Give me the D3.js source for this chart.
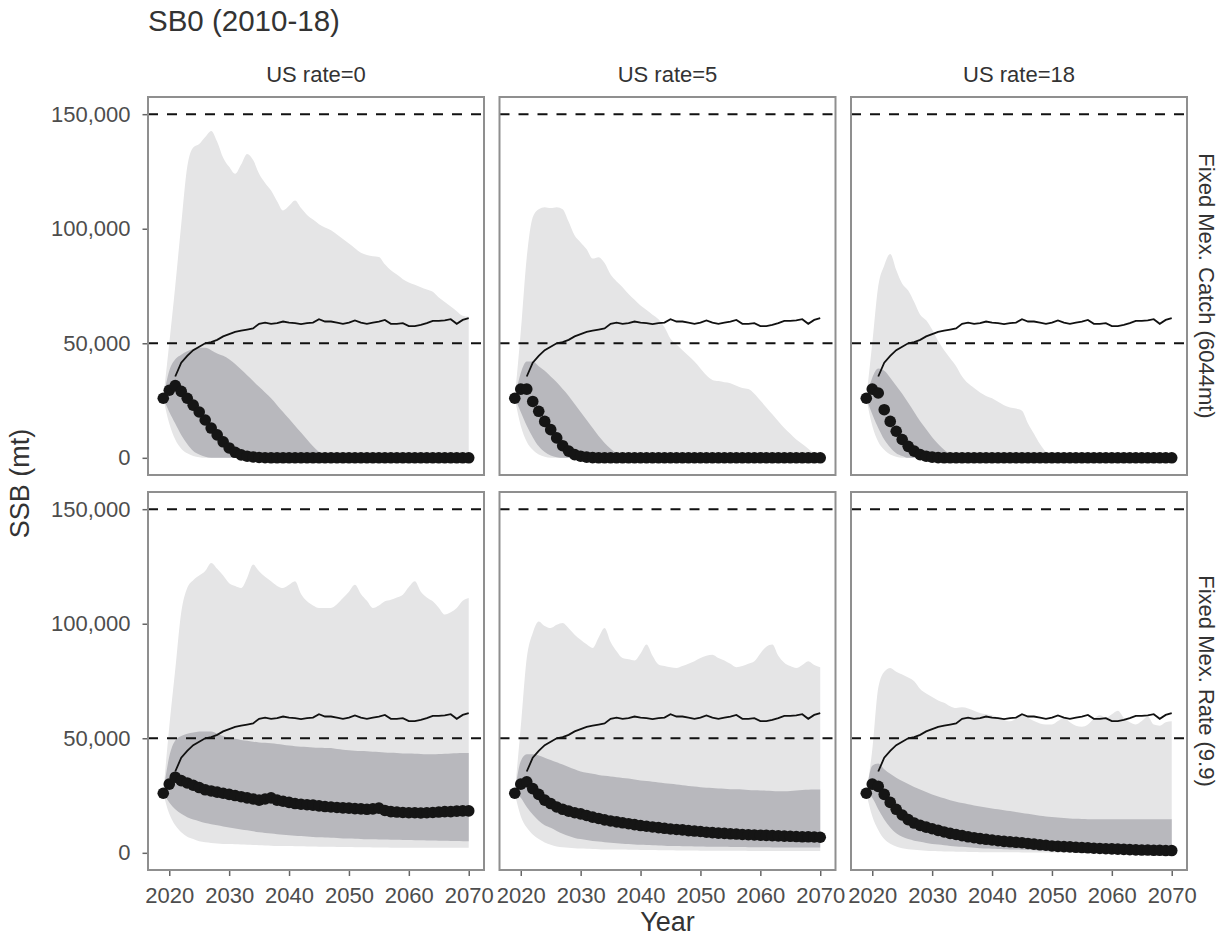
<!DOCTYPE html>
<meta charset="utf-8">
<style>

body {
  margin: 0;
  background: #fff;
  font-family: "Liberation Sans", Arial, sans-serif;
}

.axis path {
  display: none;
}

.axis line {
  stroke: #666;
  stroke-width: 1.5;
}

.axis text {
  font-size: 22px;
  fill: #4d4d4d;
}

.strip {
  font-size: 22px;
  fill: #333;
}

</style>
<body>
<script src="https://d3js.org/d3.v7.min.js"></script>
<script>

// ---- data ----
var years = [2019, 2020, 2021, 2022, 2023, 2024, 2025, 2026, 2027, 2028,
  2029, 2030, 2031, 2032, 2033, 2034, 2035, 2036, 2037, 2038,
  2039, 2040, 2041, 2042, 2043, 2044, 2045, 2046, 2047, 2048,
  2049, 2050, 2051, 2052, 2053, 2054, 2055, 2056, 2057, 2058,
  2059, 2060, 2061, 2062, 2063, 2064, 2065, 2066, 2067, 2068,
  2069, 2070];

var xTicks = [2020, 2030, 2040, 2050, 2060, 2070];
var yTicks = [0, 50000, 100000, 150000];
var refLevels = [50000, 150000];
var colLabels = ["US rate=0", "US rate=5", "US rate=18"];
var rowLabels = ["Fixed Mex. Catch (6044mt)", "Fixed Mex. Rate (9.9)"];

// unfished trajectory (same in every panel)
var noFishing = [null, null, 35500, 41500, 44500, 47000, 48500, 50000, 50500, 51500,
  53000, 54000, 55000, 55500, 56000, 56500, 58500, 59000, 58500, 58800,
  59500, 59000, 58800, 58400, 58800, 59000, 60500, 59500, 59500, 59000,
  58500, 59000, 60000, 59000, 58500, 59000, 59500, 60200, 58500, 58500,
  58800, 57500, 57500, 58000, 58800, 59800, 59800, 60000, 60500, 58500,
  60200, 61000];

// Fixed Mex. Catch, US rate=0
var catchUs0Med = [26000, 29500, 31500, 29000, 26000, 23000, 20000, 16500, 13000, 10000,
  7000, 4300, 2400, 1300, 700, 350, 150, 50, 0, 0,
  0, 0, 0, 0, 0, 0, 0, 0, 0, 0,
  0, 0, 0, 0, 0, 0, 0, 0, 0, 0,
  0, 0, 0, 0, 0, 0, 0, 0, 0, 0,
  0, 0];
var catchUs0Hi50 = [26000, 38000, 43000, 45000, 46500, 47500, 48000, 48000, 47000, 45500,
  44500, 43000, 41000, 38500, 36000, 33500, 31000, 28500, 26000, 23000,
  20000, 17000, 14000, 11000, 8000, 5000, 2500, 800, 0, 0,
  0, 0, 0, 0, 0, 0, 0, 0, 0, 0,
  0, 0, 0, 0, 0, 0, 0, 0, 0, 0,
  0, 0];
var catchUs0Lo50 = [26000, 20000, 15000, 10000, 6000, 3000, 1500, 500, 0, 0,
  0, 0, 0, 0, 0, 0, 0, 0, 0, 0,
  0, 0, 0, 0, 0, 0, 0, 0, 0, 0,
  0, 0, 0, 0, 0, 0, 0, 0, 0, 0,
  0, 0, 0, 0, 0, 0, 0, 0, 0, 0,
  0, 0];
var catchUs0Hi90 = [26000, 50000, 75000, 102000, 127000, 135500, 137000, 140000, 142700, 138000,
  131000, 127000, 124000, 128000, 132600, 130000, 124000, 120000, 116700, 112000,
  108000, 110000, 112300, 109000, 106000, 104000, 102000, 100500, 99300, 97500,
  95500, 93500, 91500, 89500, 88500, 88000, 87700, 84500, 81900, 80000,
  78000, 76500, 75500, 74500, 73500, 72500, 70000, 68000, 66000, 64000,
  62000, 61600];
var catchUs0Lo90 = [26000, 15000, 8000, 4000, 2000, 800, 300, 0, 0, 0,
  0, 0, 0, 0, 0, 0, 0, 0, 0, 0,
  0, 0, 0, 0, 0, 0, 0, 0, 0, 0,
  0, 0, 0, 0, 0, 0, 0, 0, 0, 0,
  0, 0, 0, 0, 0, 0, 0, 0, 0, 0,
  0, 0];

// Fixed Mex. Catch, US rate=5
var catchUs5Med = [26000, 30000, 30000, 24600, 20300, 15900, 12300, 8700, 5300, 2900,
  1400, 700, 300, 100, 0, 0, 0, 0, 0, 0,
  0, 0, 0, 0, 0, 0, 0, 0, 0, 0,
  0, 0, 0, 0, 0, 0, 0, 0, 0, 0,
  0, 0, 0, 0, 0, 0, 0, 0, 0, 0,
  0, 0];
var catchUs5Hi50 = [26000, 37000, 42000, 42000, 40000, 38000, 35500, 33000, 30000, 27000,
  23500, 20000, 16500, 13000, 9500, 6500, 4000, 2000, 700, 0,
  0, 0, 0, 0, 0, 0, 0, 0, 0, 0,
  0, 0, 0, 0, 0, 0, 0, 0, 0, 0,
  0, 0, 0, 0, 0, 0, 0, 0, 0, 0,
  0, 0];
var catchUs5Lo50 = [26000, 20000, 14000, 9000, 5000, 2500, 1000, 300, 0, 0,
  0, 0, 0, 0, 0, 0, 0, 0, 0, 0,
  0, 0, 0, 0, 0, 0, 0, 0, 0, 0,
  0, 0, 0, 0, 0, 0, 0, 0, 0, 0,
  0, 0, 0, 0, 0, 0, 0, 0, 0, 0,
  0, 0];
var catchUs5Hi90 = [26000, 55000, 87600, 105000, 108500, 109400, 109000, 109400, 108500, 103000,
  97000, 94000, 91000, 87000, 87600, 85000, 80000, 77000, 74500, 71500,
  69000, 66500, 64500, 62500, 60500, 57000, 52000, 49500, 47000, 44500,
  42000, 39000, 36000, 34000, 33500, 33000, 32600, 31500, 30500, 30000,
  28000, 25000, 22000, 19000, 16000, 13000, 10500, 8000, 6000, 4000,
  2000, 1000];
var catchUs5Lo90 = [26000, 14000, 7000, 3500, 1500, 500, 0, 0, 0, 0,
  0, 0, 0, 0, 0, 0, 0, 0, 0, 0,
  0, 0, 0, 0, 0, 0, 0, 0, 0, 0,
  0, 0, 0, 0, 0, 0, 0, 0, 0, 0,
  0, 0, 0, 0, 0, 0, 0, 0, 0, 0,
  0, 0];

// Fixed Mex. Catch, US rate=18
var catchUs18Med = [26000, 30000, 28300, 21000, 15900, 11600, 8000, 5000, 2900, 1400,
  700, 300, 100, 0, 0, 0, 0, 0, 0, 0,
  0, 0, 0, 0, 0, 0, 0, 0, 0, 0,
  0, 0, 0, 0, 0, 0, 0, 0, 0, 0,
  0, 0, 0, 0, 0, 0, 0, 0, 0, 0,
  0, 0];
var catchUs18Hi50 = [26000, 35000, 39000, 38000, 35000, 31500, 28000, 24000, 20000, 16000,
  12500, 9000, 6000, 3500, 1500, 500, 0, 0, 0, 0,
  0, 0, 0, 0, 0, 0, 0, 0, 0, 0,
  0, 0, 0, 0, 0, 0, 0, 0, 0, 0,
  0, 0, 0, 0, 0, 0, 0, 0, 0, 0,
  0, 0];
var catchUs18Lo50 = [26000, 19000, 13000, 8000, 4500, 2000, 800, 0, 0, 0,
  0, 0, 0, 0, 0, 0, 0, 0, 0, 0,
  0, 0, 0, 0, 0, 0, 0, 0, 0, 0,
  0, 0, 0, 0, 0, 0, 0, 0, 0, 0,
  0, 0, 0, 0, 0, 0, 0, 0, 0, 0,
  0, 0];
var catchUs18Hi90 = [26000, 50000, 75000, 84000, 89000, 82000, 76000, 73000, 68000, 62500,
  60000, 56000, 51000, 47000, 43500, 40000, 35500, 32500, 30500, 28500,
  27000, 26000, 24500, 23000, 22000, 21500, 20500, 15000, 10500, 6000,
  2500, 500, 0, 0, 0, 0, 0, 0, 0, 0,
  0, 0, 0, 0, 0, 0, 0, 0, 0, 0,
  0, 0];
var catchUs18Lo90 = [26000, 14000, 7000, 3500, 1500, 500, 0, 0, 0, 0,
  0, 0, 0, 0, 0, 0, 0, 0, 0, 0,
  0, 0, 0, 0, 0, 0, 0, 0, 0, 0,
  0, 0, 0, 0, 0, 0, 0, 0, 0, 0,
  0, 0, 0, 0, 0, 0, 0, 0, 0, 0,
  0, 0];

// Fixed Mex. Rate, US rate=0
var rateUs0Med = [26000, 30000, 33000, 31500, 30500, 29500, 28500, 27500, 27000, 26500,
  26000, 25500, 25000, 24500, 24000, 23500, 23000, 23500, 24000, 23000,
  22500, 22000, 21500, 21200, 21000, 20800, 20500, 20200, 20000, 19800,
  19600, 19500, 19300, 19200, 19000, 19200, 19500, 18500, 18000, 17800,
  17600, 17500, 17500, 17400, 17500, 17600, 17800, 18000, 18000, 18200,
  18300, 18300];
var rateUs0Hi50 = [26000, 42000, 49000, 51000, 52000, 52500, 53000, 53000, 53000, 52000,
  51000, 50200, 49800, 49300, 48900, 48500, 48200, 48000, 47800, 47500,
  47200, 46800, 46500, 46300, 46200, 46000, 45900, 45800, 45700, 45300,
  45000, 44800, 44600, 44400, 44300, 44100, 44000, 43800, 43700, 43600,
  43400, 43300, 43200, 43100, 43000, 43000, 43100, 43200, 43400, 43500,
  43600, 43600];
var rateUs0Lo50 = [26000, 22000, 19000, 17000, 15500, 14500, 13800, 13000, 12500, 12000,
  11500, 11000, 10600, 10200, 9800, 9400, 9000, 8700, 8400, 8100,
  7900, 7700, 7500, 7300, 7100, 6900, 6800, 6700, 6600, 6500,
  6300, 6200, 6100, 6000, 5900, 5900, 5800, 5800, 5700, 5700,
  5600, 5600, 5500, 5500, 5400, 5400, 5300, 5300, 5200, 5200,
  5100, 5100];
var rateUs0Hi90 = [26000, 55000, 80000, 105000, 115600, 119000, 121000, 123000, 126500, 124000,
  121000, 117700, 116500, 115600, 120000, 125800, 122900, 120500, 118500, 116500,
  115600, 117000, 118500, 113000, 109800, 108000, 106900, 106900, 106900, 108500,
  111200, 114000, 117000, 113000, 110000, 106900, 108000, 109800, 110500, 111500,
  112700, 116000, 118500, 114000, 111500, 109800, 107000, 104000, 105000, 106900,
  110000, 111200];
var rateUs0Lo90 = [26000, 17000, 12000, 9000, 7000, 6000, 5000, 4600, 4300, 4100,
  3900, 3800, 3700, 3600, 3500, 3400, 3300, 3200, 3100, 3000,
  3000, 2950, 2900, 2850, 2800, 2750, 2700, 2650, 2600, 2550,
  2500, 2500, 2450, 2400, 2400, 2350, 2300, 2300, 2250, 2250,
  2200, 2200, 2200, 2200, 2200, 2200, 2200, 2200, 2200, 2200,
  2200, 2200];

// Fixed Mex. Rate, US rate=5
var rateUs5Med = [26000, 30000, 31000, 28000, 25500, 23000, 21500, 20000, 19000, 18200,
  17500, 17000, 16300, 15600, 15000, 14400, 13900, 13500, 13100, 12700,
  12300, 11900, 11600, 11300, 11000, 10700, 10400, 10200, 10000, 9700,
  9500, 9300, 9000, 8800, 8600, 8500, 8300, 8200, 8000, 7900,
  7800, 7700, 7600, 7500, 7400, 7300, 7200, 7100, 7000, 7000,
  6900, 6800];
var rateUs5Hi50 = [26000, 40000, 43000, 43000, 42500, 41500, 40500, 39500, 38500, 37500,
  36500, 35500, 35000, 34500, 34000, 33600, 33300, 33000, 32700, 32400,
  32000, 31600, 31300, 31000, 30700, 30400, 30100, 29800, 29500, 29200,
  28900, 28600, 28400, 28300, 28100, 28000, 27800, 27700, 27600, 27400,
  27300, 27200, 27100, 27000, 26900, 26900, 27000, 27200, 27400, 27500,
  27600, 27600];
var rateUs5Lo50 = [26000, 24000, 20000, 16700, 14000, 12000, 10900, 9500, 8300, 7300,
  6500, 6000, 5600, 5200, 4900, 4600, 4400, 4200, 4000, 3800,
  3600, 3500, 3400, 3300, 3200, 3100, 3000, 3000, 2900, 2900,
  2800, 2800, 2700, 2700, 2600, 2600, 2500, 2500, 2500, 2400,
  2400, 2400, 2400, 2300, 2300, 2300, 2300, 2300, 2300, 2300,
  2300, 2300];
var rateUs5Hi90 = [26000, 55000, 85000, 96000, 101000, 99000, 98100, 99500, 100300, 98000,
  95200, 93000, 91000, 89400, 94000, 98100, 92000, 88000, 85000, 84500,
  84000, 87000, 90900, 86000, 82200, 81500, 81000, 80700, 81500, 82500,
  83600, 85000, 86000, 86500, 85000, 84000, 82500, 81000, 81500, 82500,
  83600, 87000, 90000, 90900, 86000, 83000, 81500, 80700, 82000, 83600,
  82000, 81000];
var rateUs5Lo90 = [26000, 16000, 11000, 8000, 6000, 4500, 3500, 2800, 2400, 2200,
  2000, 1900, 1800, 1700, 1600, 1500, 1500, 1400, 1400, 1300,
  1300, 1200, 1200, 1200, 1100, 1100, 1100, 1000, 1000, 1000,
  1000, 950, 950, 900, 900, 900, 850, 850, 850, 800,
  800, 800, 800, 800, 800, 800, 800, 800, 800, 800,
  800, 800];

// Fixed Mex. Rate, US rate=18
var rateUs18Med = [26000, 30000, 29000, 25500, 22000, 19000, 16500, 14500, 13000, 12000,
  11200, 10500, 9800, 9100, 8500, 8000, 7500, 7000, 6600, 6200,
  5900, 5600, 5300, 5000, 4800, 4600, 4400, 4100, 3800, 3500,
  3300, 3000, 2800, 2700, 2600, 2400, 2300, 2200, 2000, 1900,
  1800, 1700, 1600, 1500, 1400, 1300, 1200, 1200, 1100, 1100,
  1000, 1000];
var rateUs18Hi50 = [26000, 38000, 39000, 36500, 34500, 32800, 31300, 30000, 28700, 27600,
  26500, 25500, 24600, 23800, 23000, 22300, 21700, 21200, 20700, 20200,
  19800, 19400, 19000, 18600, 18200, 17800, 17400, 17000, 16600, 16200,
  15900, 15600, 15400, 15200, 15000, 14900, 14800, 14700, 14600, 14600,
  14600, 14600, 14600, 14600, 14600, 14600, 14600, 14600, 14600, 14600,
  14600, 14600];
var rateUs18Lo50 = [26000, 24000, 19000, 14500, 11000, 8500, 7000, 6000, 5300, 4800,
  4300, 3900, 3600, 3300, 3000, 2800, 2600, 2400, 2200, 2000,
  1900, 1800, 1700, 1600, 1500, 1400, 1300, 1200, 1100, 1000,
  950, 900, 850, 800, 750, 700, 650, 600, 600, 550,
  550, 500, 500, 450, 450, 400, 400, 400, 350, 350,
  300, 300];
var rateUs18Hi90 = [26000, 45000, 72000, 79000, 80700, 79000, 77800, 76500, 74900, 71500,
  69500, 68000, 66500, 65500, 64000, 63200, 63500, 63000, 62000, 61000,
  60500, 60000, 59000, 58000, 57400, 58500, 60000, 59000, 57500, 56500,
  56000, 56000, 57500, 59000, 57000, 55500, 55000, 56000, 58500, 60000,
  59000, 60500, 62000, 59000, 57000, 56000, 57500, 59500, 56000, 55500,
  57000, 57400];
var rateUs18Lo90 = [26000, 16000, 10000, 6000, 4000, 2800, 2000, 1600, 1300, 1100,
  900, 800, 700, 600, 550, 500, 450, 400, 350, 300,
  300, 250, 250, 200, 200, 200, 150, 150, 150, 100,
  100, 100, 100, 100, 100, 100, 100, 100, 100, 100,
  100, 100, 100, 100, 100, 100, 100, 100, 100, 100,
  100, 100];

var panels = [
  {row: 0, col: 0, med: catchUs0Med, lo50: catchUs0Lo50, hi50: catchUs0Hi50, lo90: catchUs0Lo90, hi90: catchUs0Hi90},
  {row: 0, col: 1, med: catchUs5Med, lo50: catchUs5Lo50, hi50: catchUs5Hi50, lo90: catchUs5Lo90, hi90: catchUs5Hi90},
  {row: 0, col: 2, med: catchUs18Med, lo50: catchUs18Lo50, hi50: catchUs18Hi50, lo90: catchUs18Lo90, hi90: catchUs18Hi90},
  {row: 1, col: 0, med: rateUs0Med, lo50: rateUs0Lo50, hi50: rateUs0Hi50, lo90: rateUs0Lo90, hi90: rateUs0Hi90},
  {row: 1, col: 1, med: rateUs5Med, lo50: rateUs5Lo50, hi50: rateUs5Hi50, lo90: rateUs5Lo90, hi90: rateUs5Hi90},
  {row: 1, col: 2, med: rateUs18Med, lo50: rateUs18Lo50, hi50: rateUs18Hi50, lo90: rateUs18Lo90, hi90: rateUs18Hi90}
];

// ---- layout ----
var width = 1225, height = 938;
var margin = {top: 97, left: 148};
var panelW = 336, panelH = 378,
    gapX = 15.5, gapY = 17;

var xPad = (d3.max(years) - d3.min(years)) * 0.05;
var x = d3.scaleLinear()
    .domain([d3.min(years) - xPad, d3.max(years) + xPad])
    .range([0, panelW]);

var y = d3.scaleLinear()
    .domain([-7500, 157500])
    .range([panelH, 0]);

var outerArea = d3.area()
    .curve(d3.curveMonotoneX)
    .x(function(d) { return x(d.year); })
    .y0(function(d) { return y(d.lo90); })
    .y1(function(d) { return y(d.hi90); });

var innerArea = d3.area()
    .curve(d3.curveMonotoneX)
    .x(function(d) { return x(d.year); })
    .y0(function(d) { return y(d.lo50); })
    .y1(function(d) { return y(d.hi50); });

var refLine = d3.line()
    .defined(function(d) { return d.ref != null; })
    .x(function(d) { return x(d.year); })
    .y(function(d) { return y(d.ref); });

var svg = d3.select("body").append("svg")
    .attr("width", width)
    .attr("height", height);

svg.append("text")
    .attr("x", margin.left)
    .attr("y", 31)
    .style("font-size", "29.5px")
    .style("fill", "#333")
    .text("SB0 (2010-18)");

panels.forEach(function(p) {
  var rows = years.map(function(yr, i) {
    return {year: yr, med: p.med[i], lo50: p.lo50[i], hi50: p.hi50[i],
            lo90: p.lo90[i], hi90: p.hi90[i], ref: noFishing[i]};
  });

  var g = svg.append("g")
      .attr("transform", "translate(" + (margin.left + p.col * (panelW + gapX)) + "," +
            (margin.top + p.row * (panelH + gapY)) + ")");

  g.append("path")
      .datum(rows)
      .attr("d", outerArea)
      .style("fill", "#e5e5e6");

  g.append("path")
      .datum(rows)
      .attr("d", innerArea)
      .style("fill", "#b8b8bd");

  g.selectAll(".ref")
      .data(refLevels)
    .enter().append("line")
      .attr("x1", 0)
      .attr("x2", panelW)
      .attr("y1", function(d) { return y(d); })
      .attr("y2", function(d) { return y(d); })
      .style("stroke", "#111")
      .style("stroke-width", 2)
      .style("stroke-dasharray", "10,9");

  g.append("path")
      .datum(rows)
      .attr("d", refLine)
      .style("fill", "none")
      .style("stroke", "#111")
      .style("stroke-width", 1.8);

  g.selectAll(".dot")
      .data(rows)
    .enter().append("circle")
      .attr("class", "dot")
      .attr("r", 5.8)
      .attr("cx", function(d) { return x(d.year); })
      .attr("cy", function(d) { return y(d.med); })
      .style("fill", "#151515");

  if (p.col === 0) {
    g.append("g")
        .attr("class", "axis")
        .call(d3.axisLeft(y).tickValues(yTicks).tickSize(5.5).tickPadding(12)
          .tickFormat(d3.format(",")));
  }
  if (p.row === 1) {
    g.append("g")
        .attr("class", "axis")
        .attr("transform", "translate(0," + panelH + ")")
        .call(d3.axisBottom(x).tickValues(xTicks).tickSize(6).tickPadding(11)
          .tickFormat(d3.format("d")));
  }
  if (p.row === 0) {
    g.append("text")
        .attr("class", "strip")
        .attr("x", panelW / 2)
        .attr("y", -15)
        .attr("text-anchor", "middle")
        .text(colLabels[p.col]);
  }
  if (p.col === 2) {
    g.append("text")
        .attr("class", "strip")
        .attr("text-anchor", "middle")
        .attr("transform", "translate(" + (panelW + 12) + "," + (panelH / 2) + ")rotate(90)")
        .text(rowLabels[p.row]);
  }

  g.append("rect")
      .attr("width", panelW)
      .attr("height", panelH)
      .style("fill", "none")
      .style("stroke", "#8f8f8f")
      .style("stroke-width", 2);
});

svg.append("text")
    .attr("text-anchor", "middle")
    .attr("transform", "translate(29," + (margin.top + panelH + gapY / 2) + ")rotate(-90)")
    .style("font-size", "27px")
    .style("fill", "#333")
    .text("SSB (mt)");

svg.append("text")
    .attr("text-anchor", "middle")
    .attr("x", margin.left + (3 * panelW + 2 * gapX) / 2)
    .attr("y", 931)
    .style("font-size", "27px")
    .style("fill", "#333")
    .text("Year");

</script>
